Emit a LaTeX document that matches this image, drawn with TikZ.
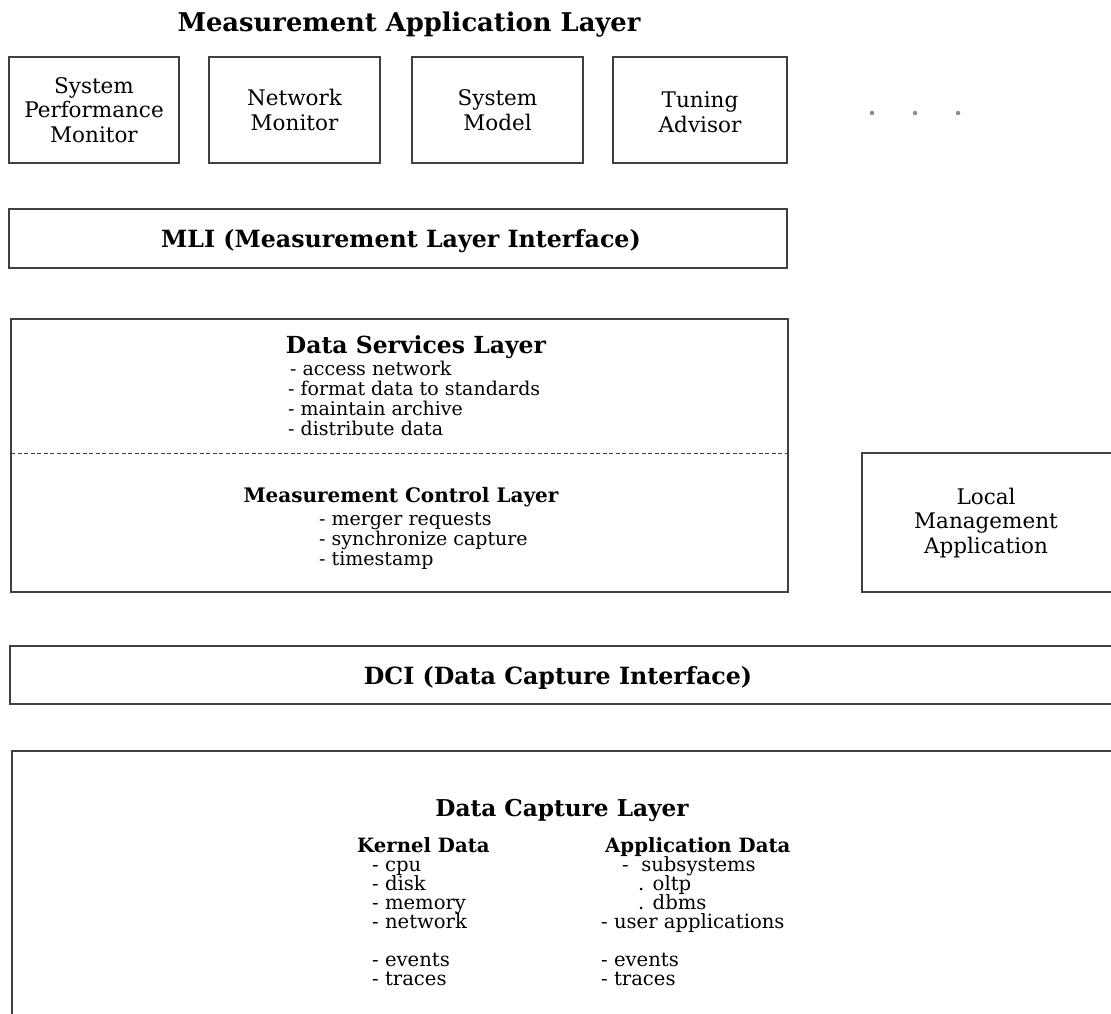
\documentclass[tikz,border=0pt]{standalone}
\usepackage{fontspec}
\setmainfont{DejaVu Serif}
\begin{document}
\begin{tikzpicture}[x=1pt,y=-1pt,
  box/.style={draw=black!75, line width=1.1pt, inner sep=0pt},
  body/.style={font=\fontsize{21.5}{24.5}\selectfont, align=center, inner sep=0pt},
  head/.style={font=\bfseries\fontsize{23.5}{26}\selectfont, anchor=base, inner sep=0pt},
  subhead/.style={font=\bfseries\fontsize{19.7}{22}\selectfont, anchor=base west, inner sep=0pt},
  item/.style={font=\fontsize{19}{20}\selectfont, anchor=base west, inner sep=0pt},
  dcitem/.style={font=\fontsize{19.6}{20}\selectfont, anchor=base west, inner sep=0pt},
  dot/.style={circle, fill=black!45, inner sep=0pt, minimum size=4.5pt}]
\useasboundingbox (0,0) rectangle (1111,1013);
\clip (0,0) rectangle (1111,1013);

% Measurement Application Layer
\node[head, font=\bfseries\fontsize{25.8}{28}\selectfont] (mal) at (409,31) {Measurement Application Layer};
\node[box, minimum width=170pt, minimum height=106pt] (spm) at (94,110) {};
\node[body] (spmt) at (spm.center) {System\\Performance\\Monitor};
\node[box, minimum width=171pt, minimum height=106pt] (nm) at (294.5,110) {};
\node[body] (nmt) at (nm.center) {Network\\Monitor};
\node[box, minimum width=171pt, minimum height=106pt] (sm) at (497.5,110) {};
\node[body] (smt) at (sm.center) {System\\Model};
\node[box, minimum width=174pt, minimum height=106pt] (ta) at (700,110) {};
\node[body] (tat) at ([yshift=-2pt]ta.center) {Tuning\\Advisor};
\node[dot] (d1) at (872,113) {};
\node[dot] (d2) at (915,113) {};
\node[dot] (d3) at (958,113) {};

% MLI
\node[box, minimum width=778pt, minimum height=59pt] (mli) at (398,238.5) {};
\node[head, font=\bfseries\fontsize{23.7}{26}\selectfont] (mlit) at (401,247) {MLI (Measurement Layer Interface)};

% Data services / measurement control
\node[box, minimum width=777pt, minimum height=273pt] (ds) at (399.5,455.5) {};
\coordinate (dsl) at (11,453);
\coordinate (dsr) at (788,453);
\draw[black!75, line width=0.8pt, dash pattern=on 4pt off 2.5pt] (dsl) -- (dsr);
\node[head] (dst) at (416,353) {Data Services Layer};
\node[item] (ds1) at (290,375) {- access network};
\node[item] (ds2) at (288,395) {- format data to standards};
\node[item] (ds3) at (288,415) {- maintain archive};
\node[item] (ds4) at (288,435) {- distribute data};
\node[head, font=\bfseries\fontsize{20}{24}\selectfont] (mct) at (401,502) {Measurement Control Layer};
\node[item] (mc1) at (319,525) {- merger requests};
\node[item] (mc2) at (319,545) {- synchronize capture};
\node[item] (mc3) at (319,565) {- timestamp};

% Local management application
\node[box, minimum width=263pt, minimum height=139pt] (lma) at (993.5,522.5) {};
\node[body] (lmat) at (986,523) {Local\\Management\\Application};

% DCI
\node[box, minimum width=1115pt, minimum height=58pt] (dci) at (567.5,675) {};
\node[head, font=\bfseries\fontsize{23.7}{26}\selectfont] (dcit) at (558,684) {DCI (Data Capture Interface)};

% Data capture layer
\node[box, minimum width=1113pt, minimum height=279pt] (dc) at (568.5,890.5) {};
\node[head, font=\bfseries\fontsize{23.2}{26}\selectfont] (dct) at (562,816) {Data Capture Layer};
\node[subhead] (kd) at (357,852) {Kernel Data};
\node[dcitem] (k1) at (372,871) {- cpu};
\node[dcitem] (k2) at (372,890) {- disk};
\node[dcitem] (k3) at (372,909) {- memory};
\node[dcitem] (k4) at (372,928) {- network};
\node[dcitem] (k5) at (372,966) {- events};
\node[dcitem] (k6) at (372,985) {- traces};
\node[subhead] (ad) at (605,852) {Application Data};
\node[dcitem] (a1) at (622,871) {-\ \ subsystems};
\node[dcitem] (a2) at (638,890) {. oltp};
\node[dcitem] (a3) at (638,909) {. dbms};
\node[dcitem] (a4) at (601,928) {- user applications};
\node[dcitem] (a5) at (601,966) {- events};
\node[dcitem] (a6) at (601,985) {- traces};
\end{tikzpicture}
\end{document}
